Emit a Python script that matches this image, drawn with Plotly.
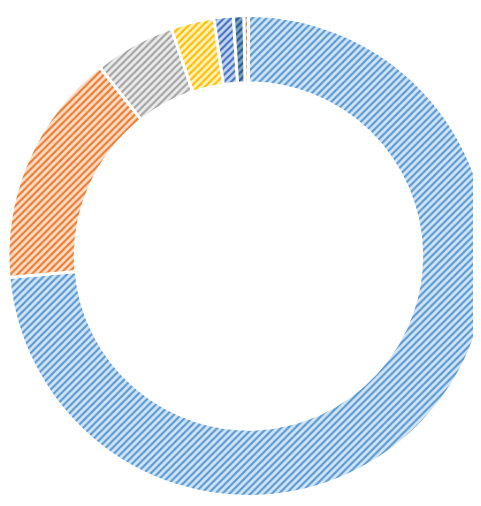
import plotly.graph_objects as go

labels = ["A", "B", "C", "D", "E", "F", "G"]
values = [73.5, 15.8, 5.4, 2.9, 1.3, 0.7, 0.3]
fg_colors = ["#5b9bd5", "#ed7d31", "#a5a5a5", "#ffc000", "#4472c4", "#255e91", "#b8875c"]
bg_colors = ["#d3e5f5", "#fbdfcc", "#ececec", "#fff1c4", "#c9d8f0", "#7fa4c4", "#e8d5c2"]

fig = go.Figure(go.Pie(
    labels=labels,
    values=values,
    sort=False,
    direction="clockwise",
    rotation=0,
    hole=0.72,
    textinfo="none",
    hoverinfo="label+percent",
    marker=dict(
        colors=bg_colors,
        line=dict(color="white", width=3),
        pattern=dict(shape="/", fgcolor=fg_colors, bgcolor=bg_colors,
                     size=5, solidity=0.45, fillmode="replace"),
    ),
))

fig.update_layout(
    width=481, height=506,
    margin=dict(l=0, r=0, t=4, b=14),
    showlegend=False,
    paper_bgcolor="white",
    plot_bgcolor="white",
)

fig.write_html("out.html")
